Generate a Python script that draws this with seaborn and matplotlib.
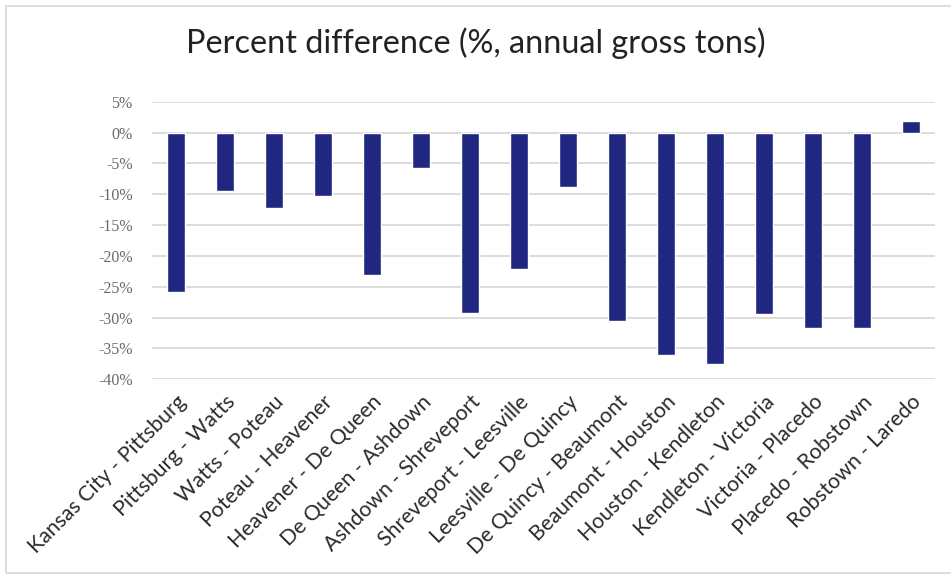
import matplotlib
matplotlib.use("Agg")
import matplotlib.pyplot as plt
import matplotlib.patches as mpatches
import pandas as pd
import seaborn as sns

segments = [
    "Kansas City - Pittsburg", "Pittsburg - Watts", "Watts - Poteau",
    "Poteau - Heavener", "Heavener - De Queen", "De Queen - Ashdown",
    "Ashdown - Shreveport", "Shreveport - Leesville", "Leesville - De Quincy",
    "De Quincy - Beaumont", "Beaumont - Houston", "Houston - Kendleton",
    "Kendleton - Victoria", "Victoria - Placedo", "Placedo - Robstown",
    "Robstown - Laredo",
]
pct_diff = [-25.8, -9.5, -12.3, -10.3, -23.1, -5.8, -29.2, -22.2, -8.9,
            -30.6, -36.1, -37.6, -29.5, -31.7, -31.7, 1.8]
y_ticks = [5, 0, -5, -10, -15, -20, -25, -30, -35, -40]

df = pd.DataFrame({"segment": segments, "pct": pct_diff})

sns.set_theme(style="white")
plt.rcParams["font.family"] = ["Lato", "DejaVu Sans"]

fig = plt.figure(figsize=(9.51, 5.78), dpi=100)
ax = fig.add_axes([0.16, 0.344, 0.823, 0.48])

sns.barplot(data=df, x="segment", y="pct", color="#1f2780", width=0.36,
            saturation=1, ax=ax, zorder=3)

ax.set_ylim(-40, 5)
ax.set_xlim(-0.48, 15.48)
ax.set_yticks(y_ticks)
ax.set_yticklabels([f"{v}%" for v in y_ticks], family="Liberation Serif",
                   fontsize=11.5, color="#6a6a6a")
ax.yaxis.grid(True, color="#dcdcdc", linewidth=1.4, zorder=0)
ax.xaxis.grid(False)
ax.tick_params(axis="y", length=0, pad=14)
ax.tick_params(axis="x", length=0, pad=9)
for lab in ax.get_xticklabels():
    lab.set_rotation(45)
    lab.set_ha("right")
    lab.set_rotation_mode("anchor")
    lab.set_fontsize(15.3)
    lab.set_color("#2a2a2a")
ax.set_xlabel("")
ax.set_ylabel("")
for s in ax.spines.values():
    s.set_visible(False)

fig.text(0.5, 0.925, "Percent difference (%, annual gross tons)",
         ha="center", va="center", fontsize=23.3, color="#222222")

# thin frame around the chart area
fig.patches.append(mpatches.Rectangle((6 / 951, 5 / 578), 1.0, 1 - 11 / 578,
                                      transform=fig.transFigure, fill=False,
                                      edgecolor="#d8d8d8", linewidth=1.2))

fig.savefig("out.png", dpi=100)
